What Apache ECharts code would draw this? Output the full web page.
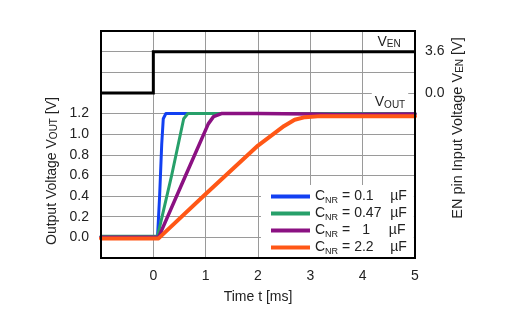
<!DOCTYPE html>
<html>
<head>
<meta charset="utf-8">
<script src="https://cdn.jsdelivr.net/npm/echarts@6/dist/echarts.min.js"></script>
<style>html,body{margin:0;padding:0;background:#fff;}#c{width:527px;height:333px;}</style>
</head>
<body>
<div id="c"></div>
<script>
// ---- data ----
var seriesNames = ['0.1', '0.47', '1', '2.2'];
var tBlue   = [-1, 0.08, 0.12, 0.16, 0.19, 0.24, 5];
var vBlue   = [0.005, 0.005, 0.4, 0.9, 1.15, 1.2, 1.2];
var tGreen  = [-1, 0.08, 0.35, 0.58, 0.66, 5];
var vGreen  = [0.01, 0.01, 0.6, 1.15, 1.2, 1.2];
var tPurple = [-1, 0.1, 0.6, 1.05, 1.15, 1.3, 2.0, 3.0, 3.5, 5];
var vPurple = [0.0, 0.0, 0.58, 1.1, 1.17, 1.2, 1.2, 1.195, 1.19, 1.195];
var tOrange = [-1, 0.1, 1.0, 2.0, 2.5, 2.7, 2.9, 3.2, 5];
var vOrange = [-0.01, -0.01, 0.42, 0.89, 1.08, 1.14, 1.165, 1.175, 1.175];
var tEN = [-1, 0, 0, 5];
var vEN = [0, 0, 3.6, 3.6];
var xTicks = [0, 1, 2, 3, 4, 5];
var leftTicks = [0.0, 0.2, 0.4, 0.6, 0.8, 1.0, 1.2];
var rightTicks = [0.0, 3.6];

function zip(a, b) { return a.map(function (v, i) { return [v, b[i]]; }); }

var colors = ['#1240f2', '#27a06a', '#8b1182', '#ff5716'];
var txt = '#222';
var sub = { fontSize: 10, verticalAlign: 'bottom', padding: [5, 0, 0, 0], color: txt, fontFamily: 'Liberation Sans' };

function mk(name, t, v, c, w) {
  return {
    name: name, type: 'line', data: zip(t, v), symbol: 'none',
    lineStyle: { color: c, width: w, cap: 'round', join: 'round' }, itemStyle: { color: c },
    animation: false, z: 3
  };
}

var chart = echarts.init(document.getElementById('c'));
chart.setOption({
  animation: false,
  textStyle: { fontFamily: 'Liberation Sans' },
  grid: { left: 101, right: 112, top: 31, bottom: 75, show: true, borderColor: '#000', borderWidth: 2, backgroundColor: 'transparent', z: 5 },
  xAxis: {
    type: 'value', min: -1, max: 5, interval: 1,
    axisLine: { show: false }, axisTick: { show: false },
    splitLine: { show: true, lineStyle: { color: '#9a9a9a', width: 1 } },
    axisLabel: {
      color: txt, fontSize: 14, margin: 11,
      formatter: function (v) { return xTicks.indexOf(Math.round(v)) >= 0 ? String(Math.round(v)) : ''; }
    },
    name: 'Time t [ms]', nameLocation: 'middle', nameGap: 32,
    nameTextStyle: { color: txt, fontSize: 14 }
  },
  yAxis: [{
    type: 'value', min: -0.2, max: 2.0, interval: 0.2,
    axisLine: { show: false }, axisTick: { show: false },
    splitLine: { show: true, lineStyle: { color: '#9a9a9a', width: 1 } },
    axisLabel: {
      color: txt, fontSize: 14, margin: 12,
      formatter: function (v) {
        var r = Math.round(v * 10) / 10;
        for (var i = 0; i < leftTicks.length; i++) if (Math.abs(leftTicks[i] - r) < 1e-6) return r.toFixed(1);
        return '';
      }
    }
  }, {
    type: 'value', min: -14.4, max: 5.4, interval: 1.8, position: 'right',
    axisLine: { show: false }, axisTick: { show: false }, splitLine: { show: false },
    axisLabel: {
      color: txt, fontSize: 14, margin: 10,
      formatter: function (v) {
        for (var i = 0; i < rightTicks.length; i++) if (Math.abs(rightTicks[i] - v) < 1e-6) return rightTicks[i].toFixed(1);
        return '';
      }
    }
  }],
  legend: {
    orient: 'vertical', left: 261, top: 185,
    backgroundColor: '#fff', padding: [3, 7, 3, 10], itemGap: 0,
    itemWidth: 39, itemHeight: 4, icon: 'rect',
    data: seriesNames.map(function (n) { return { name: n }; }),
    formatter: function (n) {
      var vs = n === '1' ? 'v2' : 'v';
      return '{c|C}{s|NR}{e|= }{' + vs + '|' + n + '}{u|µF}';
    },
    textStyle: {
      color: txt, fontSize: 14, lineHeight: 17,
      rich: {
        c: { fontSize: 14, color: txt, lineHeight: 17 },
        s: { fontSize: 9, color: txt, verticalAlign: 'bottom', padding: [6, 0, 0, 0] },
        e: { fontSize: 14, color: txt, padding: [0, 0, 0, 4] },
        v: { fontSize: 14, color: txt, width: 32, align: 'left' },
        v2: { fontSize: 14, color: txt, width: 24, align: 'right', padding: [0, 8, 0, 0] },
        u: { fontSize: 14, color: txt, width: 14, align: 'left', padding: [0, 0, 0, 4] }
      }
    },
    selectedMode: false
  },
  series: [
    mk('0.1', tBlue, vBlue, colors[0], 3),
    mk('0.47', tGreen, vGreen, colors[1], 3),
    mk('1', tPurple, vPurple, colors[2], 3.5),
    mk('2.2', tOrange, vOrange, colors[3], 4),
    {
      name: 'VEN', type: 'line', yAxisIndex: 1, data: zip(tEN, vEN), symbol: 'none',
      lineStyle: { color: '#000', width: 3, join: 'miter' }, itemStyle: { color: '#000' }, z: 4
    }
  ],
  graphic: [
    {
      type: 'text', x: 52, y: 171, rotation: Math.PI / 2,
      style: {
        text: 'Output Voltage V{s|OUT} [V]', align: 'center', verticalAlign: 'middle',
        fontSize: 14, fill: txt, fontFamily: 'Liberation Sans',
        rich: { s: sub }
      }
    },
    {
      type: 'text', x: 458, y: 128, rotation: Math.PI / 2,
      style: {
        text: 'EN pin Input Voltage V{s|EN} [V]', align: 'center', verticalAlign: 'middle',
        fontSize: 14.5, fill: txt, fontFamily: 'Liberation Sans',
        rich: { s: sub }
      }
    },
    {
      type: 'text', x: 389, y: 42, z: 10,
      style: {
        text: 'V{s|EN}', align: 'center', verticalAlign: 'middle',
        fontSize: 14, fill: txt, fontFamily: 'Liberation Sans', rich: { s: sub }
      }
    },
    {
      type: 'text', x: 390, y: 101, z: 10,
      style: {
        text: 'V{s|OUT}', align: 'center', verticalAlign: 'middle',
        fontSize: 14, fill: txt, fontFamily: 'Liberation Sans', rich: { s: sub },
        backgroundColor: '#fff', padding: [3, 3, 0, 3]
      }
    }
  ]
});
</script>
</body>
</html>
